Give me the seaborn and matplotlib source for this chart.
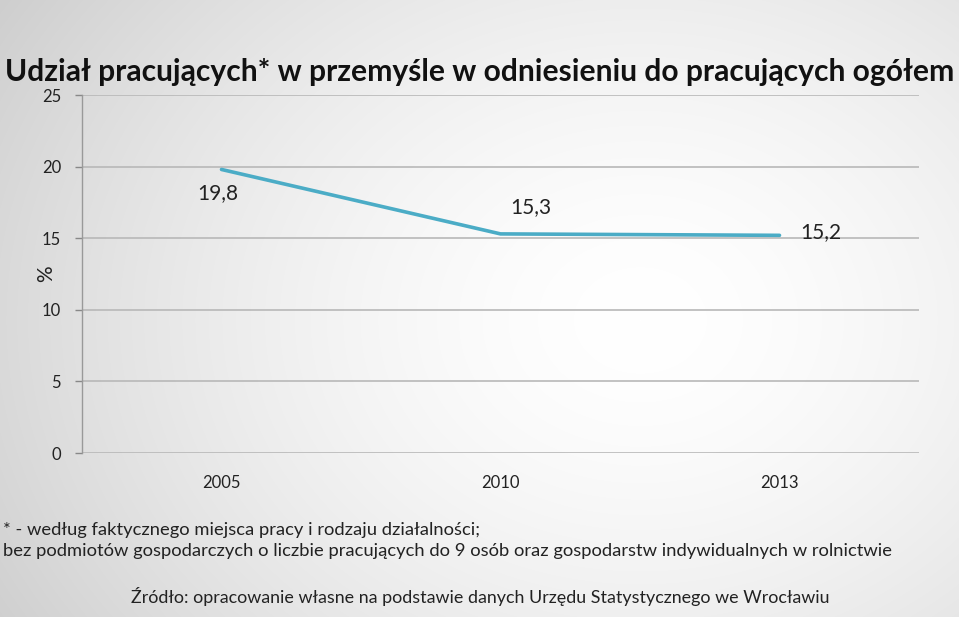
import numpy as np
import pandas as pd
import matplotlib
matplotlib.use("Agg")
import matplotlib.pyplot as plt
import seaborn as sns

years = ["2005", "2010", "2013"]
values = [19.8, 15.3, 15.2]
labels = ["19,8", "15,3", "15,2"]
yticks = [0, 5, 10, 15, 20, 25]

title = "Udział pracujących* w przemyśle w odniesieniu do pracujących ogółem"
note1 = "* - według faktycznego miejsca pracy i rodzaju działalności;"
note2 = "bez podmiotów gospodarczych o liczbie pracujących do 9 osób oraz gospodarstw indywidualnych w rolnictwie"
source = "Źródło: opracowanie własne na podstawie danych Urzędu Statystycznego we Wrocławiu"

sns.set_theme(style="white")
plt.rcParams['font.family'] = ['Lato', 'DejaVu Sans']

W, H = 959, 617
fig = plt.figure(figsize=(W / 100, H / 100), dpi=100)

# background radial gradient
yy, xx = np.mgrid[0:H, 0:W]
r = np.sqrt(((xx - 640) / 700.0) ** 2 + ((yy - 320) / 560.0) ** 2)
g = 1.0 - 0.17 * np.clip(r, 0, 1.2) ** 1.6
bg = np.dstack([g, g, g])
bgax = fig.add_axes([0, 0, 1, 1], zorder=-10)
bgax.imshow(bg, aspect="auto", extent=[0, 1, 0, 1])
bgax.axis("off")

ax = fig.add_axes([82 / W, 1 - 453 / H, (919 - 82) / W, (453 - 95) / H])
ax.patch.set_alpha(0)

df = pd.DataFrame({"year": years, "value": values})
sns.lineplot(data=df, x="year", y="value", ax=ax, color="#4BACC6", linewidth=2.6, sort=False)

ax.set_xlim(-0.5, 2.5)
ax.set_ylim(0, 25)
ax.set_yticks(yticks)
ax.set_yticklabels([str(t) for t in yticks], fontsize=12, color="#222222")
ax.tick_params(axis="x", labelsize=12, colors="#222222", length=0, pad=16)
ax.tick_params(axis="y", length=5, width=1, color="#888888", pad=10, left=True)
ax.grid(axis="y", color="#b8b8b8", linewidth=1.2)
ax.grid(axis="x", visible=False)
for s in ["top", "right", "bottom"]:
    ax.spines[s].set_visible(False)
ax.spines["left"].set_color("#999999")
ax.spines["left"].set_linewidth(1.0)
ax.set_xlabel("")
ax.set_ylabel("%", fontsize=15, color="#222222", labelpad=-10)

offsets = [(-3, -17), (22, 19), (30, 2)]
for i, (v, lab) in enumerate(zip(values, labels)):
    ax.annotate(lab, (i, v), xytext=offsets[i], textcoords="offset points",
                ha="center", va="center", fontsize=15, color="#222222")

fig.text(0.5, 1 - 72 / H, title, fontsize=21.6, fontweight="bold", color="#111111",
         ha="center", va="center")
fig.text(3 / W, 1 - 530 / H, note1, fontsize=13.2, color="#222222", ha="left", va="center")
fig.text(3 / W, 1 - 551 / H, note2, fontsize=13.2, color="#222222", ha="left", va="center")
fig.text(480 / W, 1 - 596 / H, source, fontsize=12.9, color="#222222", ha="center", va="center")

fig.savefig("out.png", dpi=100)
